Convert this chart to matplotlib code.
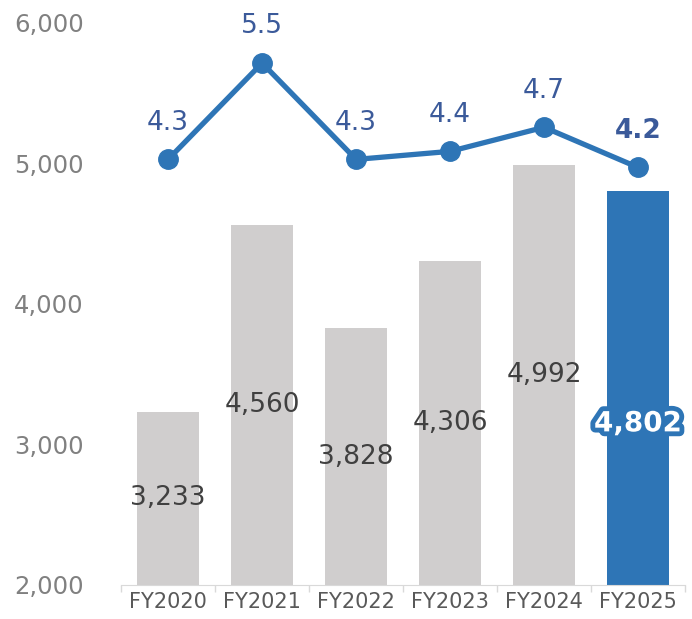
import matplotlib.pyplot as plt
import matplotlib.patheffects as pe
import numpy as np

# ---- data ----
categories = ["FY2020", "FY2021", "FY2022", "FY2023", "FY2024", "FY2025"]
sales = [3233, 4560, 3828, 4306, 4992, 4802]
ratio = [4.3, 5.5, 4.3, 4.4, 4.7, 4.2]
y_ticks = [2000, 3000, 4000, 5000, 6000]

GRAY = "#D0CECE"
BLUE = "#2E75B6"
LINE_LABEL = "#3B5A9A"

plt.rcParams['font.family'] = ['DejaVu Sans']

fig = plt.figure(figsize=(6.92, 6.19), dpi=100)
ax = fig.add_axes([0.175, 0.055, 0.815, 0.908])

x = np.arange(len(categories))
colors = [GRAY] * (len(sales) - 1) + [BLUE]
ax.bar(x, [s - 2000 for s in sales], bottom=2000, width=0.66, color=colors, zorder=2)

ax.set_ylim(2000, 6000)
ax.set_xlim(-0.5, len(categories) - 0.5)
ax.set_yticks(y_ticks)
ax.set_yticklabels([f"{v:,}" for v in y_ticks], color="#808080", fontsize=17.5)
ax.set_xticks(x)
ax.set_xticklabels(categories, color="#595959", fontsize=15)
ax.set_xticks(np.arange(-0.5, len(categories)), minor=True)
ax.tick_params(axis='x', which='major', length=0, pad=5)
ax.tick_params(axis='x', which='minor', length=5, color="#D9D9D9", width=1)
ax.tick_params(axis='y', length=0, pad=27)
for side in ["top", "right", "left"]:
    ax.spines[side].set_visible(False)
ax.spines["bottom"].set_color("#D9D9D9")

# bar value labels, centred in the visible bar
for i, s in enumerate(sales):
    if i == len(sales) - 1:
        ax.text(i, 3150, f"{s:,}", ha="center", va="center", fontsize=20,
                color="white", fontweight="bold", zorder=5,
                path_effects=[pe.withStroke(linewidth=7, foreground=BLUE)])
    else:
        ax.text(i, (2000 + s) / 2, f"{s:,}", ha="center", va="center",
                fontsize=19, color="#404040", zorder=5)

# ratio line on hidden secondary axis
ax2 = ax.twinx()
ax2.set_ylim(-1, 6)
ax2.axis("off")
ax2.plot(x, ratio, color=BLUE, linewidth=3.8, marker="o", markersize=14, zorder=3)
for i, r in enumerate(ratio):
    ax2.annotate(f"{r:.1f}", (i, r), xytext=(0, 17), textcoords="offset points",
                 ha="center", va="bottom", fontsize=19, color=LINE_LABEL,
                 fontweight="bold" if i == len(ratio) - 1 else "normal")

fig.savefig("out.png", dpi=100)
